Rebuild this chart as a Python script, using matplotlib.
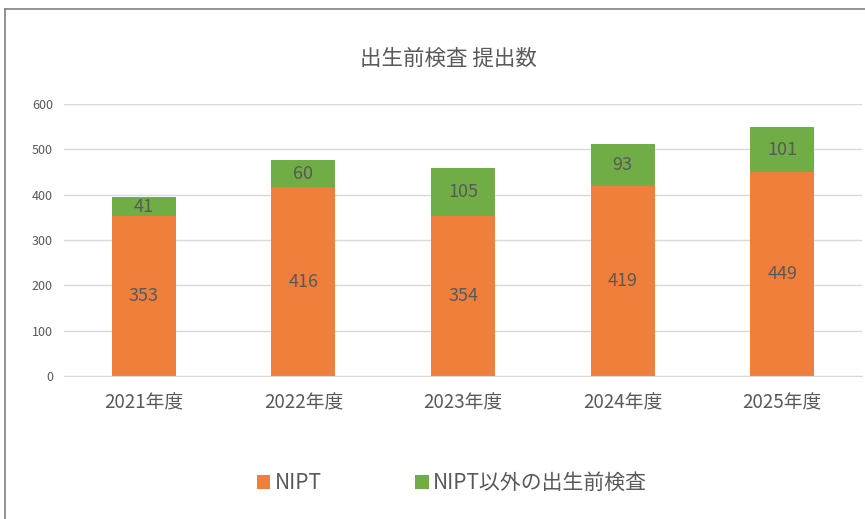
import matplotlib.pyplot as plt
from matplotlib.lines import Line2D
import numpy as np

plt.rcParams['font.family'] = ['Noto Sans CJK JP', 'DejaVu Sans']

years = ['2021年度', '2022年度', '2023年度', '2024年度', '2025年度']
nipt = [353, 416, 354, 419, 449]
other = [41, 60, 105, 93, 101]

orange = '#F07F3C'
green = '#70AD47'
text_gray = '#595959'

fig = plt.figure(figsize=(8.65, 5.19), dpi=100)
ax = fig.add_axes([64 / 865, (519 - 376) / 519, 798 / 865, 272 / 519])

x = np.arange(len(years))
b1 = ax.bar(x, nipt, width=0.4, color=orange, label='NIPT', zorder=2)
b2 = ax.bar(x, other, width=0.4, bottom=nipt, color=green,
            label='NIPT以外の出生前検査', zorder=2)
ax.bar_label(b1, label_type='center', color=text_gray, fontsize=13)
ax.bar_label(b2, label_type='center', color=text_gray, fontsize=13)

ax.set_xlim(-0.5, len(years) - 0.5)
ax.set_ylim(0, 600)
ax.set_yticks(range(0, 601, 100))
ax.set_xticks(x)
ax.set_xticklabels(years, fontsize=13.5, color=text_gray)
ax.tick_params(axis='y', labelsize=9, colors=text_gray, length=0, pad=8)
ax.tick_params(axis='x', length=0, pad=12)
ax.grid(axis='y', color='#D9D9D9', linewidth=1, zorder=0)
for s in ['top', 'right', 'left']:
    ax.spines[s].set_visible(False)
ax.spines['bottom'].set_color('#D9D9D9')

fig.text(448 / 865, 1 - 59 / 519, '出生前検査 提出数', ha='center', va='center',
         fontsize=15.5, color=text_gray)

fig.legend(loc='center', bbox_to_anchor=(452 / 865, 1 - 483 / 519), ncol=2,
           frameon=False, fontsize=15, labelcolor=text_gray,
           handlelength=0.65, handleheight=0.65, handletextpad=0.2, columnspacing=4.5)

# chart border (left and top edges visible)
fig.add_artist(Line2D([4.5 / 865, 4.5 / 865], [0, 1 - 9 / 519], transform=fig.transFigure,
                      color='#808080', linewidth=1.2))
fig.add_artist(Line2D([4.5 / 865, 1], [1 - 9 / 519, 1 - 9 / 519], transform=fig.transFigure,
                      color='#808080', linewidth=1.2))

fig.savefig('out.png', dpi=100)
